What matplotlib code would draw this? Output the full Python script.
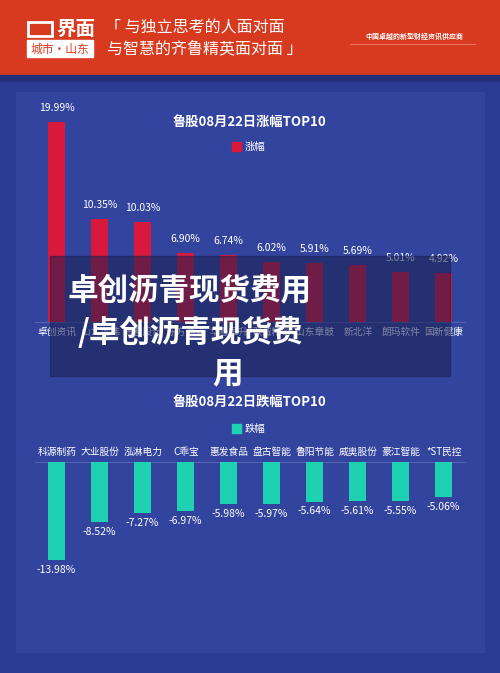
import matplotlib
matplotlib.use("Agg")
import matplotlib.pyplot as plt
from matplotlib.patches import Rectangle

plt.rcParams['font.family'] = ['Noto Sans CJK SC', 'DejaVu Sans']

up_names = ["卓创资讯", "山大地纬", "海看股份", "东方海洋", "华鲁恒升", "联诚精密", "山东章鼓", "新北洋", "朗玛软件", "国新健康"]
up_vals = [19.99, 10.35, 10.03, 6.90, 6.74, 6.02, 5.91, 5.69, 5.01, 4.92]
down_names = ["科源制药", "大业股份", "泓淋电力", "C乖宝", "惠发食品", "盘古智能", "鲁阳节能", "威奥股份", "豪江智能", "*ST民控"]
down_vals = [-13.98, -8.52, -7.27, -6.97, -5.98, -5.97, -5.64, -5.61, -5.55, -5.06]

W, H = 500, 673
fig = plt.figure(figsize=(W/100, H/100), dpi=100)
fig.patch.set_facecolor("#2b3b93")

def px(x0, y0, w, h):
    return [x0/W, 1-(y0+h)/H, w/W, h/H]

bg = fig.add_axes([0, 0, 1, 1]); bg.set_xlim(0, W); bg.set_ylim(H, 0); bg.axis("off")
bg.add_patch(Rectangle((0, 0), W, 75, color="#d83a20"))
bg.add_patch(Rectangle((0, 75), W, 6, color="#25307a"))
bg.add_patch(Rectangle((16, 92), 468, 560, color="#33449e"))
bg.text(56, 29, "界面", color="white", fontsize=14, fontweight="bold", va="center")
bg.add_patch(Rectangle((28, 22), 24, 14, fill=False, ec="white", lw=2))
bg.add_patch(Rectangle((27, 40), 66, 17, color="white"))
bg.text(60, 49, "城市·山东", color="#d83a20", fontsize=8.5, ha="center", va="center")
bg.text(105, 28, "「 与独立思考的人面对面", color="white", fontsize=11.5, style="italic", va="center")
bg.text(107, 49, "与智慧的齐鲁精英面对面 」", color="white", fontsize=11.5, style="italic", va="center")
bg.text(414, 36, "中国卓越的新型财经资讯供应商", color="white", fontsize=5, ha="center", va="center", fontweight="bold")
bg.plot([350, 475], [44, 44], color="#f08070", lw=0.6)

bg.text(250, 122, "鲁股08月22日涨幅TOP10", color="white", fontsize=9.5, ha="center", va="center", fontweight="bold")
bg.add_patch(Rectangle((232, 142), 9, 9, color="#d8193c"))
bg.text(245, 147, "涨幅", color="white", fontsize=7.5, va="center")
bg.text(250, 402, "鲁股08月22日跌幅TOP10", color="white", fontsize=9.5, ha="center", va="center", fontweight="bold")
bg.add_patch(Rectangle((232, 424), 9, 9, color="#1ed1b1"))
bg.text(245, 429, "跌幅", color="white", fontsize=7.5, va="center")

x = list(range(10))
ax1 = fig.add_axes(px(35, 112, 430, 210))
ax1.bar(x, up_vals, width=0.4, color="#d8193c")
ax1.set_xlim(-0.5, 9.5); ax1.set_ylim(0, 21)
for i, v in enumerate(up_vals):
    ax1.text(i, v + 0.9, f"{v:.2f}%", color="white", fontsize=7.5, ha="center", va="bottom")
ax1.axis("off")
for i, n in enumerate(up_names):
    bg.text(57 + i*43, 332, n, color="white", fontsize=7, ha="center", va="center")
bg.plot([35, 465], [322, 322], color="#5a6ab0", lw=0.6)

ax2 = fig.add_axes(px(35, 462, 430, 110))
ax2.bar(x, down_vals, width=0.4, color="#1ed1b1")
ax2.set_xlim(-0.5, 9.5); ax2.set_ylim(-15.7, 0)
for i, v in enumerate(down_vals):
    ax2.text(i, v - 0.7, f"{v:.2f}%", color="white", fontsize=7.5, ha="center", va="top")
ax2.axis("off")
for i, n in enumerate(down_names):
    bg.text(57 + i*43, 452, n, color="white", fontsize=7, ha="center", va="center")
bg.plot([35, 465], [462, 462], color="#5a6ab0", lw=0.6)

ov = fig.add_axes([0, 0, 1, 1]); ov.set_xlim(0, W); ov.set_ylim(H, 0); ov.axis("off")
ov.add_patch(Rectangle((50, 256), 400, 120, color="#1a2050", alpha=0.55))
ov.text(68, 290, "卓创沥青现货费用", color="white", fontsize=22, fontweight="heavy", va="center")
ov.text(78, 333, "/卓创沥青现货费", color="white", fontsize=22, fontweight="heavy", va="center")
ov.text(212, 373, "用", color="white", fontsize=22, fontweight="heavy", va="center")

fig.savefig("out.png", dpi=100, facecolor=fig.get_facecolor())
